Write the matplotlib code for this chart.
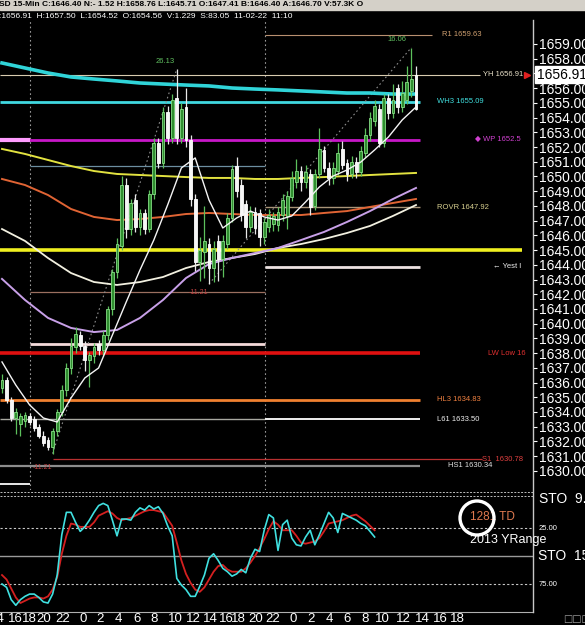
import matplotlib
matplotlib.use('Agg')
import matplotlib.pyplot as plt
from matplotlib.lines import Line2D
from matplotlib.patches import Rectangle, Ellipse
import numpy as np

plt.rcParams['font.family'] = ['Liberation Sans', 'DejaVu Sans']

W, H = 585, 625

# ---- price bars (one slot per bar) ----
opens = [1635.6, 1636.2, 1634.8, 1633.6, 1633.2, 1633.4, 1633.7, 1633.5, 1633.0, 1632.4,
         1632.1, 1631.6, 1632.7, 1634.0, 1635.5, 1637.0, 1638.4, 1639.2, 1638.5, 1637.5,
         1637.8, 1638.6, 1638.2, 1639.2, 1641.0, 1643.5, 1645.3, 1649.4, 1646.4, 1648.4,
         1646.6, 1647.5, 1646.4, 1648.8, 1652.3, 1650.9, 1654.4, 1652.6, 1655.3, 1652.6,
         1654.7, 1652.5, 1648.5, 1644.2, 1644.9, 1645.4, 1643.8, 1645.6, 1644.4, 1645.4,
         1647.2, 1650.7, 1649.4, 1648.1, 1646.6, 1647.6, 1647.5, 1645.9, 1646.6, 1646.8,
         1646.7, 1647.4, 1647.3, 1648.6, 1649.6, 1650.4, 1649.6, 1650.2, 1648.0, 1650.2,
         1651.8, 1650.6, 1649.9, 1650.4, 1651.9, 1650.9, 1650.2, 1651.0, 1650.3, 1651.6,
         1652.8, 1653.8, 1654.6, 1652.3, 1655.3, 1654.3, 1656.0, 1654.7, 1655.2, 1655.8,
         1654.56]
highs = [1636.6, 1636.4, 1635.0, 1634.3, 1633.9, 1634.0, 1633.9, 1633.7, 1633.2, 1632.7,
         1632.3, 1632.9, 1634.2, 1635.8, 1637.3, 1639.0, 1639.8, 1639.5, 1638.8, 1638.1,
         1638.7, 1638.9, 1639.5, 1641.2, 1643.7, 1645.8, 1650.0, 1649.9, 1648.5, 1648.8,
         1647.8, 1647.8, 1649.1, 1652.6, 1652.6, 1654.7, 1654.8, 1655.6, 1657.30, 1655.0,
         1656.0, 1652.8, 1648.8, 1645.9, 1648.0, 1645.8, 1645.6, 1646.0, 1646.0, 1647.5,
         1650.8, 1651.3, 1649.8, 1648.4, 1648.0, 1647.9, 1647.8, 1647.2, 1647.8, 1647.6,
         1647.9, 1648.8, 1649.0, 1650.4, 1651.2, 1650.7, 1650.8, 1650.5, 1650.5, 1653.3,
         1652.1, 1651.0, 1651.0, 1652.3, 1652.4, 1651.2, 1651.4, 1651.3, 1652.1, 1653.3,
         1654.4, 1655.2, 1654.9, 1655.6, 1655.6, 1656.3, 1656.3, 1656.5, 1657.5, 1658.76,
         1657.50]
lows = [1635.3, 1634.6, 1633.4, 1632.5, 1632.4, 1633.0, 1633.1, 1632.7, 1632.2, 1631.7,
        1631.4, 1631.17, 1632.4, 1633.7, 1635.1, 1636.6, 1638.0, 1638.2, 1636.8, 1635.7,
        1637.3, 1637.9, 1637.8, 1638.9, 1640.6, 1643.1, 1645.0, 1645.8, 1646.0, 1646.2,
        1646.0, 1646.1, 1646.2, 1648.5, 1650.6, 1650.6, 1652.2, 1652.3, 1652.2, 1652.3,
        1652.0, 1648.0, 1643.6, 1642.9, 1643.1, 1642.70, 1642.8, 1642.9, 1643.2, 1645.1,
        1646.9, 1648.6, 1647.0, 1645.8, 1646.2, 1646.1, 1645.3, 1645.4, 1646.2, 1646.3,
        1646.3, 1647.0, 1646.4, 1648.3, 1649.2, 1649.0, 1649.2, 1647.4, 1647.7, 1649.9,
        1650.3, 1649.4, 1649.5, 1650.1, 1650.5, 1649.7, 1649.9, 1649.9, 1650.0, 1651.3,
        1652.4, 1653.4, 1652.0, 1652.0, 1653.9, 1654.0, 1654.3, 1654.4, 1654.9, 1655.4,
        1654.52]
closes = [1636.2, 1634.8, 1633.6, 1634.0, 1633.7, 1633.8, 1633.3, 1632.9, 1632.4, 1631.9,
          1631.6, 1632.7, 1634.0, 1635.5, 1637.0, 1638.5, 1639.3, 1638.5, 1637.5, 1637.9,
          1638.4, 1638.2, 1639.2, 1641.0, 1643.5, 1645.4, 1649.4, 1646.4, 1648.2, 1646.6,
          1647.5, 1646.4, 1648.8, 1652.3, 1650.9, 1654.4, 1652.6, 1655.2, 1652.6, 1654.6,
          1652.5, 1648.5, 1644.2, 1645.0, 1645.6, 1643.8, 1645.1, 1644.4, 1645.6, 1647.2,
          1650.5, 1649.0, 1647.4, 1646.6, 1647.6, 1646.5, 1645.9, 1646.9, 1647.4, 1647.3,
          1647.6, 1648.4, 1648.7, 1649.9, 1650.4, 1649.6, 1650.3, 1647.9, 1650.2, 1651.9,
          1650.6, 1649.9, 1650.6, 1651.6, 1650.8, 1650.2, 1651.0, 1650.3, 1651.7, 1652.8,
          1654.0, 1654.8, 1652.3, 1655.3, 1654.3, 1655.2, 1654.7, 1655.7, 1656.4, 1656.6,
          1656.91]
painted_white = [90]

# ---- moving averages ----
ma_x = list(range(0, 91, 5))
ma_cyan = [1657.71, 1657.37, 1657.03, 1656.76, 1656.62, 1656.49, 1656.35, 1656.28, 1656.21, 1656.15,
           1656.01, 1655.94, 1655.88, 1655.81, 1655.74, 1655.67, 1655.67, 1655.60, 1655.60]
ma_yellow = [1651.87, 1651.53, 1651.12, 1650.71, 1650.37, 1650.17, 1650.10, 1650.03, 1649.96, 1649.90,
             1649.90, 1649.83, 1649.83, 1649.90, 1649.96, 1650.03, 1650.10, 1650.17, 1650.24]
ma_orange = [1649.83, 1649.42, 1648.74, 1647.79, 1647.25, 1647.04, 1647.11, 1647.25, 1647.45, 1647.52,
             1647.45, 1647.38, 1647.38, 1647.38, 1647.52, 1647.65, 1647.93, 1648.20, 1648.47]
ma_cream = [1646.43, 1645.62, 1644.46, 1643.44, 1642.83, 1642.63, 1642.83, 1643.17, 1643.78, 1644.19,
            1644.46, 1644.73, 1645.14, 1645.41, 1645.75, 1646.16, 1646.64, 1647.32, 1648.06]
ma_purple = [1643.04, 1641.61, 1640.39, 1639.71, 1639.43, 1639.57, 1640.39, 1641.61, 1643.10, 1644.05,
             1644.46, 1644.80, 1645.14, 1645.68, 1646.23, 1646.91, 1647.65, 1648.47, 1649.22]
fast_x = list(range(0, 91, 3))
ma_fast = [1637.40, 1635.83, 1634.48, 1633.59, 1633.32, 1634.95, 1636.31, 1636.99, 1639.23, 1641.47,
           1643.65, 1645.68, 1648.06, 1650.58, 1651.26, 1648.40, 1646.50, 1647.18, 1647.65, 1647.25,
           1647.04, 1647.32, 1648.27, 1649.29, 1650.03, 1650.44, 1650.98, 1651.80, 1652.68, 1653.84,
           1654.72]

# ---- levels ----
r1 = 1659.63
yh = 1656.91
wh3 = 1655.09
wp = 1652.51
mid_level = 1650.70
rovr = 1647.92
yest_close = 1645.00
yest_low = 1643.85
swing_level = 1642.15
pink_level = 1638.60
lw_low = 1638.00
hl3 = 1634.83
l61 = 1633.50
s1 = 1630.78
hs1 = 1630.34
bottom_level = 1629.10
swing1 = (11, 1631.17, 38, 1657.30)
swing2 = (45, 1642.70, 89, 1658.76)

# ---- stochastic ----
sto_k = [75, 78, 89, 94, 89, 86, 84, 84, 87, 91, 92, 84, 67, 31, 11, 11, 20, 28, 24, 18,
         11, 5, 3, 5, 18, 32, 17, 17, 18, 11, 7, 9, 5, 8, 6, 12, 23, 32, 70, 76,
         80, 86, 86, 77, 67, 52, 48, 54, 61, 64, 68, 66, 62, 65, 52, 44, 46, 27, 13, 16,
         45, 22, 18, 34, 40, 41, 33, 27, 40, 31, 21, 11, 16, 29, 12, 14, 16, 18, 21, 23,
         28, 33]
sto_d = [67, 71, 79, 87, 92, 90, 88, 87, 87, 88, 86, 80, 69, 48, 32, 21, 22, 24, 24, 24,
         20, 14, 12, 10, 12, 16, 18, 17, 16, 14, 12, 10, 9, 9, 10, 11, 17, 23, 38, 54,
         66, 74, 80, 82, 78, 71, 64, 59, 58, 62, 64, 64, 64, 61, 56, 50, 43, 35, 26, 19,
         22, 27, 27, 27, 32, 38, 39, 38, 37, 34, 28, 21, 20, 19, 18, 16, 14, 13, 16, 19,
         23, 27]

hour_labels = ['14', '16', '18', '20', '22', '0', '2', '4', '6', '8', '10', '12', '14',
               '16', '18', '20', '22', '0', '2', '4', '6', '8', '10', '12', '14', '16', '18']
hour_pos = [-1.1, 3.0, 5.9, 9.1, 13.3, 17.6, 21.3, 25.2, 29.4, 33.0, 37.6, 41.5, 45.3,
            48.7, 51.4, 55.2, 58.9, 63.3, 67.2, 71.1, 75.0, 78.9, 82.8, 87.2, 91.3, 95.2, 98.9]


def bx(px):
    """pixel column -> bar slot"""
    return (px - 2) / 4.6


def fx(px):
    return px / W


def fy(py):
    return 1 - py / H


fig = plt.figure(figsize=(W / 100, H / 100), dpi=100, facecolor='black')
ax = fig.add_axes([0, fy(490), fx(533), (490 - 20) / H], facecolor='black')
ax2 = fig.add_axes([0, fy(612), fx(533), (612 - 498) / H], facecolor='black')

x = np.arange(len(closes))
o, h, l, c = map(np.array, (opens, highs, lows, closes))
is_white = c < o
is_white[painted_white] = True


# levels (drawn first, under candles)
def hline(price, px0, px1, color, lw, ls='-'):
    ax.plot([bx(px0), bx(px1)], [price, price], color=color, lw=lw, ls=ls,
            solid_capstyle='butt', zorder=2)


hline(r1, 265, 432, '#b89070', 0.8)
hline(yh, 0, 480, '#d8cbb0', 0.8)
hline(wh3, 0, 420, '#40d8e0', 2.0)
hline(wp, 0, 420, '#c818c8', 2.0)
hline(wp, 0, 30, '#ff9cff', 3.0)
hline(mid_level, 30, 265, '#6c8ea0', 0.9)
hline(rovr, 265, 420, '#a89478', 1.0)
hline(yest_close, 0, 522, '#f0f020', 2.6)
hline(yest_low, 265, 420, '#ece2e2', 2.0)
hline(swing_level, 30, 265, '#9c7060', 0.9)
hline(pink_level, 30, 265, '#f4dada', 2.0)
hline(lw_low, 0, 420, '#e01010', 2.6)
hline(hl3, 0, 420, '#f08030', 2.0)
hline(l61, 0, 265, '#a8a8a0', 1.0)
hline(l61, 265, 420, '#f0f0f0', 1.4)
hline(s1, 53, 482, '#b83030', 0.9)
hline(hs1, 0, 420, '#8c8c8c', 1.6)
hline(bottom_level, 0, 30, '#e8e8e8', 1.4)

for px in (30, 265):
    ax.axvline(bx(px), color='#9a9a9a', lw=0.8, ls=(0, (1.5, 2.5)), zorder=1)

for sw in (swing1, swing2):
    ax.plot([sw[0], sw[2]], [sw[1], sw[3]], color='#8c8c8c', lw=0.8,
            ls=(0, (1.5, 2.5)), zorder=2)

# moving averages
ax.plot(ma_x, ma_cyan, color='#30d4d8', lw=2.6, zorder=3)
ax.plot(ma_x, ma_yellow, color='#e2e240', lw=1.4, zorder=3)
ax.plot(ma_x, ma_orange, color='#e06434', lw=1.4, zorder=3)
ax.plot(ma_x, ma_cream, color='#f2f0e0', lw=1.3, zorder=3)
ax.plot(ma_x, ma_purple, color='#c8a0e8', lw=1.4, zorder=3)

# candles
wick_col = np.where(is_white, '#e8e8e8', '#5cc05c')
ax.vlines(x, l, h, colors=wick_col, lw=0.9, zorder=4)
ax.bar(x[~is_white], (c - o)[~is_white], bottom=o[~is_white], width=0.62,
       color='#2f8f2f', edgecolor='#86dc86', lw=0.6, zorder=5)
ax.bar(x[is_white], (c - o)[is_white], bottom=o[is_white], width=0.62,
       color='#f6f6f6', edgecolor='#ffffff', lw=0.6, zorder=5)

ax.plot(fast_x, ma_fast, color='#f4f4f4', lw=1.0, zorder=6)

ax.set_xlim(bx(0), bx(533))
ax.set_ylim(1628.70, 1660.63)
ax.yaxis.tick_right()
ticks = np.arange(1630, 1660)
ax.set_yticks(ticks)
# the 1657 label sits under the last-price box
ax.set_yticklabels(['' if v == 1657 else f'{v:.2f}' for v in ticks])
ax.tick_params(axis='y', colors='white', labelsize=10, length=3, width=0.8, pad=1)
ax.set_xticks([])
for s in ax.spines.values():
    s.set_visible(False)

# level labels
lab = dict(fontsize=5.5, va='center', ha='left', zorder=7)
ax.text(bx(442), r1, 'R1 1659.63', color='#d0a070', **lab)
ax.text(bx(483), yh, 'YH 1656.91', color='#e8e0c8', **lab)
ax.text(bx(437), wh3, 'WH3 1655.09', color='#40e0e0', **lab)
ax.text(bx(475), wp, '\u25c6 WP 1652.5', color='#d040d0', **lab)
ax.text(bx(437), rovr, 'ROVR 1647.92', color='#d8d090', **lab)
ax.text(bx(493), yest_low, '\u2190 Yest l', color='#f0f0f0', **lab)
ax.text(bx(488), lw_low, 'LW Low 16', color='#e03030', **lab)
ax.text(bx(437), hl3, 'HL3 1634.83', color='#f08040', **lab)
ax.text(bx(437), l61, 'L61 1633.50', color='#f0f0f0', **lab)
ax.text(bx(482), s1, 'S1  1630.78', color='#e04040', **lab)
ax.text(bx(448), hs1, 'HS1 1630.34', color='#e0e0e0', **lab)
ax.text(bx(165), 1657.55, '26.13', color='#60c060', fontsize=5.5, ha='center', va='bottom')
ax.text(bx(397), 1659.10, '16.06', color='#60c060', fontsize=5.5, ha='center', va='bottom')
ax.text(bx(42), 1630.2, '-11.21', color='#c04040', fontsize=5, ha='center', va='center')
ax.text(bx(198), swing_level, '-11.21', color='#c04040', fontsize=5, ha='center', va='center')
ax.plot([bx(527)], [yh], marker='>', color='#e02020', ms=5, clip_on=False, zorder=8)
ax.text(1.0075, yh, '1656.91', transform=ax.get_yaxis_transform(), color='black',
        fontsize=10, va='center', ha='left',
        bbox=dict(boxstyle='square,pad=0.12', fc='white', ec='white'), zorder=9)

# stochastic panel
sx = np.arange(len(sto_k))
ax2.axhline(25, color='#c8c8c8', lw=0.8, ls=(0, (2, 2)))
ax2.axhline(75, color='#c8c8c8', lw=0.8, ls=(0, (2, 2)))
ax2.axhline(50, color='#9a9a9a', lw=1.0)
ax2.plot(sx, sto_d, color='#d42020', lw=1.3)
ax2.plot(sx, sto_k, color='#40e0e0', lw=1.2)
ax2.set_xlim(bx(0), bx(533))
ax2.set_ylim(100, -1.8)
ax2.set_xticks([])
ax2.set_yticks([])
for s in ax2.spines.values():
    s.set_visible(False)
ax2.spines['bottom'].set_visible(True)
ax2.spines['bottom'].set_color('#b0b0b0')

tr = ax2.get_xaxis_transform()
for pos, txt in zip(hour_pos, hour_labels):
    ax2.text(pos, -0.01, txt, transform=tr, color='white', fontsize=9.5,
             ha='center', va='top', clip_on=False)

ax2.text(1.01, 25, '25.00', transform=ax2.get_yaxis_transform(), color='white',
         fontsize=5.5, va='center')
ax2.text(1.01, 75, '75.00', transform=ax2.get_yaxis_transform(), color='white',
         fontsize=5.5, va='center')
ax2.text(1.01, 50, 'STO  15', transform=ax2.get_yaxis_transform(), color='white',
         fontsize=10, va='center')

# figure-level decorations
fig.add_artist(Rectangle((0, fy(10)), 1, 10 / H, transform=fig.transFigure,
                         color='#d4d0c8', zorder=0))
fig.text(fx(-1), fy(5), 'SD 15-Min C:1646.40 N:- 1.52 H:1658.76 L:1645.71 O:1647.41 '
         'B:1646.40 A:1646.70 V:57.3K O', color='black', fontsize=6, weight='bold',
         va='center', ha='left')
fig.text(fx(-1), fy(16), ':1656.91  H:1657.50  L:1654.52  O:1654.56  V:1.229  '
         'S:83.05  11-02-22  11:10', color='white', fontsize=6, va='center', ha='left')

fig.add_artist(Line2D([fx(533), fx(533)], [fy(612), fy(20)], transform=fig.transFigure,
                      color='#c8c8c8', lw=1.0))
for py in (492, 496):
    fig.add_artist(Line2D([0, fx(533)], [fy(py), fy(py)], transform=fig.transFigure,
                          color='#bdbdbd', lw=0.7, ls=(0, (2, 1.5))))
fig.text(fx(539), fy(499), 'STO  9.3', color='white', fontsize=10, va='center', ha='left')

fig.add_artist(Ellipse((fx(477), fy(518)), 34 / W, 34 / H, transform=fig.transFigure,
                       fill=False, ec='white', lw=2.4, zorder=10))
fig.text(fx(470), fy(517), '1281 TD', color='#e07a50', fontsize=8.5, va='center', ha='left')
fig.text(fx(470), fy(540), '2013 YRange', color='white', fontsize=9, va='center', ha='left')
fig.text(fx(563), fy(619), '\u25a1\u25a1\u25a1', color='#a0a0a0', fontsize=7,
         va='center', ha='left', family='DejaVu Sans')

fig.savefig('out.png', dpi=100, facecolor='black')
